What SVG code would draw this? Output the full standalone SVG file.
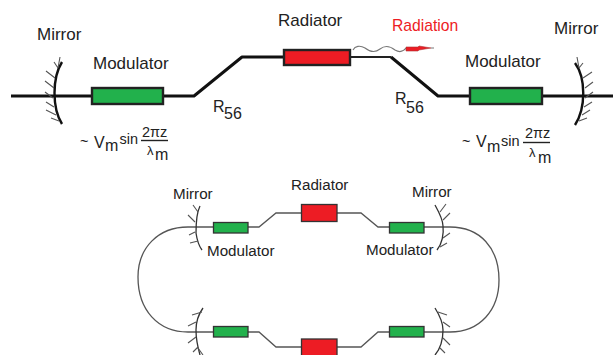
<svg xmlns="http://www.w3.org/2000/svg" width="613" height="355" viewBox="0 0 613 355">
<style>
text{font-family:"Liberation Sans",Arial,sans-serif;fill:#222;font-size:17px}
.s{font-size:14.500px}
.t{font-size:15.200px}
.r{font-size:16px}
.lam{font-size:13px}
.big{fill:none;stroke:#111;stroke-width:3;stroke-linejoin:round}
.thin{fill:none;stroke:#555;stroke-width:1.3}
.h{fill:none;stroke:#555;stroke-width:1.1}
.m{fill:none;stroke:#111;stroke-width:2.400}
.sm{fill:none;stroke:#333;stroke-width:1.300}
.g{fill:#22b14c;stroke:#222;stroke-width:2.400}
.rd{fill:#ed1c24;stroke:#222;stroke-width:2.400}
.g2{fill:#22b14c;stroke:#333;stroke-width:1.300}
.rd2{fill:#ed1c24;stroke:#333;stroke-width:1.300}
</style>
<g id="connectors">
<path class="big" d="M11 96H91M163 96H194L242 57H283M391 57L438 96H470M542 96H613"/>
<path d="M350 57H391" fill="none" stroke="#222" stroke-width="2"/>
<path class="thin" d="M188 227H213M248 227H259L276 213H301M337 213H361L378 227H389M424 227H450"/>
<path class="thin" d="M188 332H213M248 332H259L276 347H301M337 347H361L378 332H389M424 332H450"/>
<path class="thin" d="M188 227C158 227 138 248 138 277C138 310 158 332 188 332"/>
<path class="thin" d="M450 227C480 227 499 248 499 280C499 310 480 332 450 332"/>
<path d="M353 50C355 46 360 45 365 48C370 52 375 53 380 49C385 45 390 46 395 50C400 53 403 52 406 48" fill="none" stroke="#777" stroke-width="1.100"/>
<path d="M406 47H418L419 46L431 48L419 50L418 51H406Z" fill="#ed1c24" stroke="#a33" stroke-width=".6"/>
<path d="M431 48H434" stroke="#777" stroke-width="1"/>
</g>
<g id="mirror-top-left">
<path class="m" d="M62 62C52 78 52 108 62 124"/>
<path class="h" d="M58 68L60 57M58 68L54 62M55 78L46 71M54 88L45 81M53 98L45 92M54 107L46 102M56 115L46 110M59 121L51 118"/>
<text x="37" y="40">Mirror</text>
</g>
<g id="modulator-top-left"><rect class="g" x="92" y="88" width="71" height="16"/><text x="93" y="69">Modulator</text></g>
<g id="radiator-top"><rect class="rd" x="284" y="50" width="66" height="15"/><text x="278" y="26">Radiator</text></g>
<g id="radiation"><text x="392" y="31" style="fill:#ed1c24;font-size:15.700px">Radiation</text></g>
<g id="modulator-top-right"><rect class="g" x="470" y="88" width="72" height="16"/><text x="465" y="67">Modulator</text></g>
<g id="mirror-top-right">
<path class="m" d="M575 63C586 78 586 108 575 125"/>
<path class="h" d="M579 68L577 57M579 68L583 63M583 78L592 72M585 88L593 82M585 98L593 92M584 107L592 102M582 115L590 110M579 121L587 118"/>
<text x="554" y="34">Mirror</text>
</g>
<g id="r56-left"><text x="213" y="112" class="r">R</text><text x="224" y="119" class="r">56</text></g>
<g id="r56-right"><text x="395" y="104" class="r">R</text><text x="406" y="113" class="r">56</text></g>
<g id="formula-left">
<text x="80" y="146" class="s">~</text><text x="94" y="148" class="r">V</text><text x="105" y="151" class="r">m</text>
<text x="119.500" y="144" class="s">sin</text><text x="142" y="137" class="s">2πz</text>
<path d="M141 140.500H168" stroke="#222" stroke-width="1.400"/>
<text x="147" y="155" class="lam">λ</text><text x="155" y="160" class="r">m</text>
</g>
<g id="formula-right">
<text x="462" y="146" class="s">~</text><text x="476" y="147" class="r">V</text><text x="487" y="152" class="r">m</text>
<text x="501" y="146" class="s">sin</text><text x="525" y="138" class="s">2πz</text>
<path d="M523 142.500H550" stroke="#222" stroke-width="1.400"/>
<text x="529" y="157" class="lam">λ</text><text x="538" y="163" class="r">m</text>
</g>
<g id="mirror-bottom-tl">
<path class="sm" d="M200 206C196 214 196 226 196 233C197 240 199 246 202 250"/>
<path class="h" d="M193 205L198 212M188 215L195 222M189 235L195 232M190 243L198 241"/>
<text x="173" y="199" class="t">Mirror</text>
</g>
<g id="modulator-bottom-tl"><rect class="g2" x="213.500" y="222.500" width="34.500" height="10.500"/><text x="207" y="256" class="t">Modulator</text></g>
<g id="radiator-bottom-top"><rect class="rd2" x="301.500" y="204.500" width="35.500" height="17"/><text x="291" y="190" class="t">Radiator</text></g>
<g id="modulator-bottom-tr"><rect class="g2" x="389.500" y="222.500" width="34.500" height="10.500"/><text x="366" y="255" class="t">Modulator</text></g>
<g id="mirror-bottom-tr">
<path class="sm" d="M435 205C440 214 443 220 443 226C444 234 442 244 437 250"/>
<path class="h" d="M446 204L440 212M450 213L443 220M450 233L443 238M447 243L440 247"/>
<text x="412" y="197" class="t">Mirror</text>
</g>
<g id="mirror-bottom-bl">
<path class="sm" d="M203 308C198 315 196 322 196 330C196 340 198 348 200 355"/>
<path class="h" d="M192 315L202 312M188 326L196 322M188 343L196 337M193 352L198 347M198 348L203 355"/>
</g>
<g id="modulator-bottom-bl"><rect class="g2" x="213.500" y="326.500" width="34.500" height="10.500"/></g>
<g id="radiator-bottom-bot"><rect class="rd2" x="301.500" y="339" width="35.500" height="17"/></g>
<g id="modulator-bottom-br"><rect class="g2" x="389.500" y="326.500" width="34.500" height="10.500"/></g>
<g id="mirror-bottom-br">
<path class="sm" d="M435 308C440 316 443 322 443 330C443 340 440 349 435 355"/>
<path class="h" d="M447 315L438 312M450 327L443 322M450 345L443 338M445 353L440 348"/>
</g>
</svg>
